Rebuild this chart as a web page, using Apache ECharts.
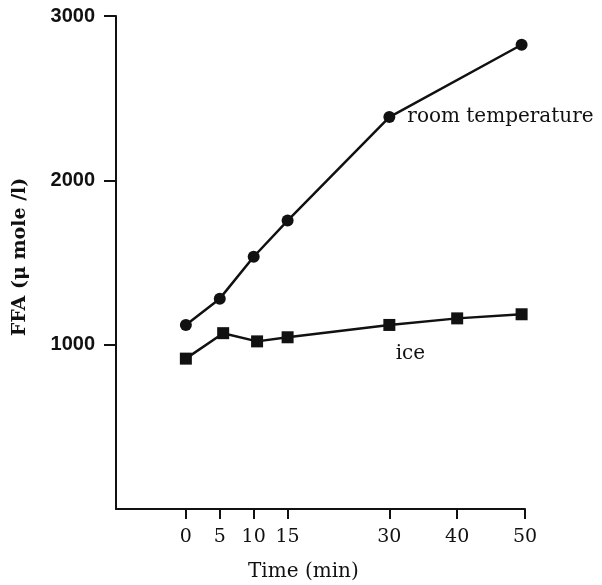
<!DOCTYPE html>
<html>
<head>
<meta charset="utf-8">
<script src="https://cdn.jsdelivr.net/npm/echarts@6/dist/echarts.min.js"></script>
<style>
  html, body { margin: 0; padding: 0; background: #fff; }
  #chart { width: 602px; height: 585px; }
</style>
</head>
<body>
<div id="chart"></div>
<script>
// FFA concentration over time, samples kept at room temperature vs on ice
const roomTime = [0, 5, 10, 15, 30, 49.5];
const roomFFA = [1120, 1280, 1535, 1755, 2385, 2825];
const iceTime = [0, 5.5, 10.5, 15, 30, 40, 49.5];
const iceFFA = [915, 1070, 1020, 1045, 1120, 1160, 1185];
const xTicks = [0, 5, 10, 15, 30, 40, 50];
const yTicks = [1000, 2000, 3000];

const pairs = (xs, ys) => xs.map((x, i) => [x, ys[i]]);

const serif = '"DejaVu Serif", serif';
const sans = '"Liberation Sans", Arial, sans-serif';

const roomData = pairs(roomTime, roomFFA).map((p, i) => i === 4 ? {
  value: p,
  label: {
    show: true, position: 'right', distance: 12,
    formatter: 'room temperature',
    fontFamily: serif, fontSize: 20, color: '#111'
  }
} : p);

const iceData = pairs(iceTime, iceFFA).map((p, i) => i === 4 ? {
  value: p,
  label: {
    show: true, position: 'bottom', distance: 13, offset: [21, 0],
    formatter: 'ice',
    fontFamily: serif, fontSize: 20, color: '#111'
  }
} : p);

const chart = echarts.init(document.getElementById('chart'));
chart.setOption({
  backgroundColor: '#fff',
  animation: false,
  grid: { left: 116, right: 77, top: 16, bottom: 76 },
  xAxis: {
    type: 'value',
    min: -10.3,
    max: 50,
    axisLine: { show: true, onZero: false, lineStyle: { color: '#111', width: 2 } },
    axisTick: { show: true, customValues: xTicks, length: 10, lineStyle: { color: '#111', width: 2 } },
    axisLabel: { customValues: xTicks, margin: 19, fontFamily: serif, fontSize: 19, color: '#111' },
    splitLine: { show: false }
  },
  yAxis: {
    type: 'value',
    min: 0,
    max: 3000,
    axisLine: { show: true, onZero: false, lineStyle: { color: '#111', width: 2 } },
    axisTick: { show: true, customValues: yTicks, length: 12, lineStyle: { color: '#111', width: 2 } },
    axisLabel: {
      customValues: yTicks, margin: 21, formatter: v => String(v),
      fontFamily: sans, fontWeight: 'bold', fontSize: 20, color: '#111'
    },
    splitLine: { show: false }
  },
  graphic: [
    {
      type: 'text', left: 248, top: 562,
      style: { text: 'Time (min)', font: '20px ' + serif, fill: '#111' }
    },
    {
      type: 'text', x: 20, y: 257, rotation: Math.PI / 2,
      style: { text: 'FFA (μ mole /l)', font: 'bold 19px ' + serif, fill: '#111', align: 'center', verticalAlign: 'middle' }
    }
  ],
  series: [
    {
      name: 'room temperature', type: 'line', data: roomData,
      symbol: 'circle', symbolSize: 12,
      itemStyle: { color: '#111' },
      lineStyle: { color: '#111', width: 2.5 }
    },
    {
      name: 'ice', type: 'line', data: iceData,
      symbol: 'rect', symbolSize: 12,
      itemStyle: { color: '#111' },
      lineStyle: { color: '#111', width: 2.5 }
    }
  ]
});
</script>
</body>
</html>
